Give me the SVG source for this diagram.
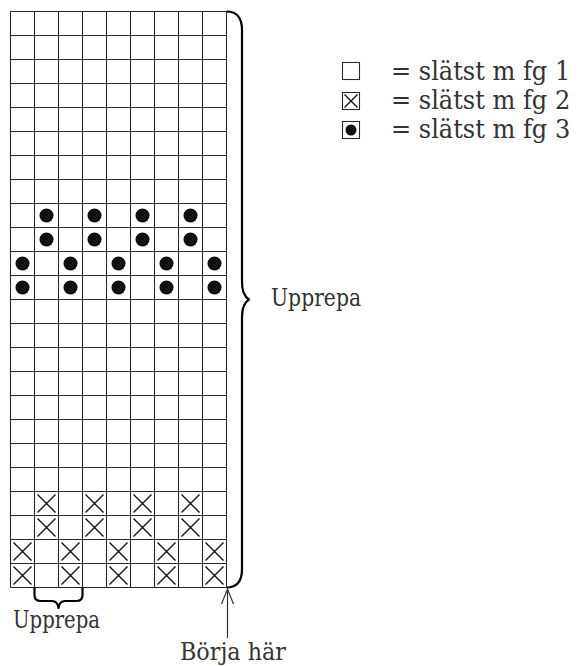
<svg xmlns="http://www.w3.org/2000/svg" width="579" height="666" viewBox="0 0 579 666">
<style>
.g{stroke:#2a2a2a;stroke-width:1.1;fill:none}
.x{stroke:#111;stroke-width:1.4;fill:none}
.d{fill:#111}
.b{stroke:#000;stroke-width:2.2;fill:none;stroke-linejoin:round}
text{fill:#333;font-family:"DejaVu Serif","Liberation Serif",serif}
</style>
<defs>
<path id="X" class="x" d="M3,3 L21,21 M21,3 L3,21"/>
<circle id="D" class="d" cx="12" cy="12" r="7"/>
</defs>
<rect width="579" height="666" fill="#fff"/>
<g id="grid">
<path class="g" d="M10.5,11.5V587.5M34.5,11.5V587.5M58.5,11.5V587.5M82.5,11.5V587.5M106.5,11.5V587.5M130.5,11.5V587.5M154.5,11.5V587.5M178.5,11.5V587.5M202.5,11.5V587.5M226.5,11.5V587.5"/>
<path class="g" d="M10.5,11.5H226.5M10.5,35.5H226.5M10.5,59.5H226.5M10.5,83.5H226.5M10.5,107.5H226.5M10.5,131.5H226.5M10.5,155.5H226.5M10.5,179.5H226.5M10.5,203.5H226.5M10.5,227.5H226.5M10.5,251.5H226.5M10.5,275.5H226.5M10.5,299.5H226.5M10.5,323.5H226.5M10.5,347.5H226.5M10.5,371.5H226.5M10.5,395.5H226.5M10.5,419.5H226.5M10.5,443.5H226.5M10.5,467.5H226.5M10.5,491.5H226.5M10.5,515.5H226.5M10.5,539.5H226.5M10.5,563.5H226.5M10.5,587.5H226.5"/>
</g>
<g id="dots">
<use href="#D" x="34.5" y="203.5"/><use href="#D" x="82.5" y="203.5"/><use href="#D" x="130.5" y="203.5"/><use href="#D" x="178.5" y="203.5"/>
<use href="#D" x="34.5" y="227.5"/><use href="#D" x="82.5" y="227.5"/><use href="#D" x="130.5" y="227.5"/><use href="#D" x="178.5" y="227.5"/>
<use href="#D" x="10.5" y="251.5"/><use href="#D" x="58.5" y="251.5"/><use href="#D" x="106.5" y="251.5"/><use href="#D" x="154.5" y="251.5"/><use href="#D" x="202.5" y="251.5"/>
<use href="#D" x="10.5" y="275.5"/><use href="#D" x="58.5" y="275.5"/><use href="#D" x="106.5" y="275.5"/><use href="#D" x="154.5" y="275.5"/><use href="#D" x="202.5" y="275.5"/>
</g>
<g id="crosses">
<use href="#X" x="34.5" y="491.5"/><use href="#X" x="82.5" y="491.5"/><use href="#X" x="130.5" y="491.5"/><use href="#X" x="178.5" y="491.5"/>
<use href="#X" x="34.5" y="515.5"/><use href="#X" x="82.5" y="515.5"/><use href="#X" x="130.5" y="515.5"/><use href="#X" x="178.5" y="515.5"/>
<use href="#X" x="10.5" y="539.5"/><use href="#X" x="58.5" y="539.5"/><use href="#X" x="106.5" y="539.5"/><use href="#X" x="154.5" y="539.5"/><use href="#X" x="202.5" y="539.5"/>
<use href="#X" x="10.5" y="563.5"/><use href="#X" x="58.5" y="563.5"/><use href="#X" x="106.5" y="563.5"/><use href="#X" x="154.5" y="563.5"/><use href="#X" x="202.5" y="563.5"/>
</g>
<g id="connectors">
<path class="b" d="M226.5,11.5 C236,11.5 242,17 242,30 L242,282 C242,292 245,297 249,299.5 C245,302 242,307 242,317 L242,569 C242,582 236,587.5 226.5,587.5"/>
<path class="b" d="M34.5,587.5 L34.5,595 C34.5,599 36.5,601 40.5,601 L52,601 C56,601 58,604 58.5,608 C59,604 61,601 65,601 L76.5,601 C80.5,601 82.5,599 82.5,595 L82.5,587.5"/>
<path stroke="#333" stroke-width="1.2" fill="none" d="M227.5,638 V589 M221.5,604 L227.5,589 L233.5,604"/>
</g>
<g id="labels">
<text x="271" y="306" font-size="25" textLength="90" lengthAdjust="spacingAndGlyphs">Upprepa</text>
<text x="13" y="628" font-size="25" textLength="87" lengthAdjust="spacingAndGlyphs">Upprepa</text>
<text x="180" y="660" font-size="25" textLength="106" lengthAdjust="spacingAndGlyphs">Börja här</text>
</g>
<g id="legend">
<rect x="342.5" y="62.5" width="17" height="17" class="g"/>
<rect x="342.5" y="92.5" width="17" height="17" class="g"/>
<path class="x" d="M344.5,94.5 L357.5,107.5 M357.5,94.5 L344.5,107.5"/>
<rect x="342.5" y="121.5" width="17" height="17" class="g"/>
<circle class="d" cx="351" cy="130" r="5.5"/>
<g transform="translate(391,0) scale(0.8,1)">
<text x="0" y="80" font-size="26" textLength="224" lengthAdjust="spacingAndGlyphs">= slätst m fg 1</text>
<text x="0" y="109" font-size="26" textLength="224" lengthAdjust="spacingAndGlyphs">= slätst m fg 2</text>
<text x="0" y="138" font-size="26" textLength="224" lengthAdjust="spacingAndGlyphs">= slätst m fg 3</text>
</g>
</g>
</svg>
